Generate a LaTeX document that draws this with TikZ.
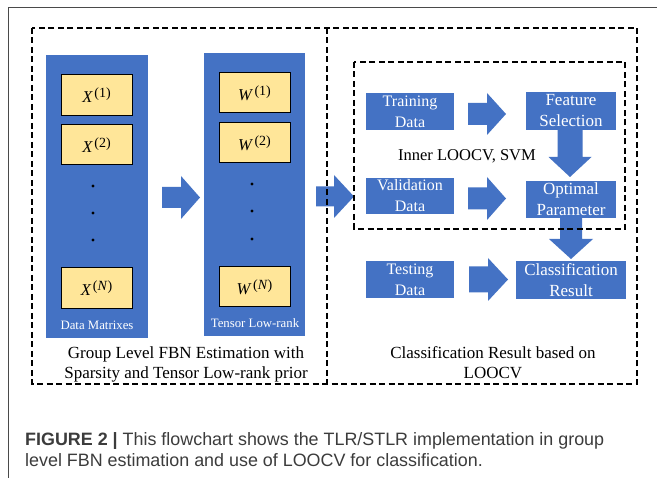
\documentclass[tikz,border=0pt]{standalone}
\usepackage{fontspec}
\setmainfont{Liberation Serif}
\newfontfamily\capfont{Liberation Sans}
\definecolor{blu}{HTML}{4472C4}
\definecolor{yel}{HTML}{FFE699}
\definecolor{framegray}{HTML}{4A4A4A}
\definecolor{captxt}{HTML}{3C3C3C}
\newcommand\blockR[6]{\fill[blu] (#1,#4-#5) -- (#2,#4-#5) -- (#2,#4-#6) -- (#3,#4) -- (#2,#4+#6) -- (#2,#4+#5) -- (#1,#4+#5) -- cycle;}
\newcommand\blockD[6]{\fill[blu] (#4-#5,#1) -- (#4-#5,#2) -- (#4-#6,#2) -- (#4,#3) -- (#4+#6,#2) -- (#4+#5,#2) -- (#4+#5,#1) -- cycle;}
\newcommand\mlab[2]{\textit{#1}\kern1.5pt\raisebox{5pt}{\fontsize{14}{14}\selectfont(#2)}}
\tikzset{
  panel/.style={fill=blu, inner sep=0pt, text=white, font=\fontsize{12.8}{14}\selectfont},
  mat/.style={fill=yel, draw=black, line width=1pt, inner sep=0pt, minimum width=71, font=\fontsize{16.5}{20}\selectfont},
  bboxL/.style={fill=blu, text=white, inner sep=0pt, align=center, font=\fontsize{16}{21}\selectfont},
  bboxR/.style={fill=blu, text=white, inner sep=0pt, align=center, font=\fontsize{17}{21}\selectfont},
  dbox/.style={dash pattern=on 6pt off 3.5pt, line width=1.1pt, black},
  dotc/.style={circle, fill=black, inner sep=0pt, minimum size=3.2pt},
  grouptxt/.style={align=center, font=\fontsize{17}{20}\selectfont},
  captext/.style={anchor=base west, inner sep=0pt, text=captxt, font=\capfont\fontsize{17.9}{20}\selectfont}
}
\begin{document}
\begin{tikzpicture}[x=1pt,y=-1pt]
\useasboundingbox (0,0) rectangle (657,478);
\fill[white] (0,0) rectangle (657,478);
% outer frame (page border)
\draw[framegray, line width=1pt] (8,478) -- (8,8) -- (657,8);

% left panels
\node[panel, minimum width=102, minimum height=283] (panelX) at (97,196.5) {};
\node[panel, minimum width=101, minimum height=283] (panelW) at (254.5,194.5) {};
\node[panel, anchor=center] (lblX) at (97,325) {Data Matrixes};
\node[panel, anchor=center] (lblW) at (255,323) {Tensor Low-rank};

\node[mat, minimum height=41] (X1) at (96.5,95.5) {\mlab{X}{1}};
\node[mat, minimum height=40] (X2) at (96.5,145) {\mlab{X}{2}};
\node[mat, minimum height=41] (XN) at (96.5,288.5) {\mlab{X}{\textit{N}}};
\node[mat, minimum height=40] (W1) at (254.5,93) {\mlab{W}{1}};
\node[mat, minimum height=40] (W2) at (254.5,143) {\mlab{W}{2}};
\node[mat, minimum height=40] (WN) at (254.5,287) {\mlab{W}{\textit{N}}};

\node[dotc] (dx1) at (93,186) {};
\node[dotc] (dx2) at (93,213) {};
\node[dotc] (dx3) at (93,240) {};
\node[dotc] (dw1) at (252,184) {};
\node[dotc] (dw2) at (252,211) {};
\node[dotc] (dw3) at (252,239) {};

% right blue boxes
\node[bboxL, minimum width=88, minimum height=37] (train) at (410,111.5) {Training\\Data};
\node[bboxR, minimum width=90, minimum height=38] (feat) at (571,111) {Feature\\Selection};
\node[bboxL, minimum width=88, minimum height=36] (valid) at (410,196) {Validation\\Data};
\node[bboxR, minimum width=90, minimum height=37] (optim) at (571,199.5) {Optimal\\Parameter};
\node[bboxL, minimum width=88, minimum height=37] (test) at (410,279.5) {Testing\\Data};
\node[bboxR, minimum width=110, minimum height=38] (result) at (571,280) {Classification\\Result};

\node[font=\fontsize{16.5}{20}\selectfont, inner sep=0pt] (inner) at (467,156) {Inner LOOCV, SVM};

% block arrows
\blockR{162}{181}{200}{197.5}{10.5}{21.5}
\blockR{316}{334}{354}{196.5}{10}{21.5}
\blockR{468}{487}{506}{114}{11}{21}
\blockR{468}{487}{506}{198.5}{11}{21.5}
\blockR{469}{488}{508}{279.5}{13}{21.5}
\blockD{130}{157}{177}{570}{12.5}{21.5}
\blockD{218}{239}{259}{571}{11}{22}

% dashed boxes
\draw[dbox] (32,28) rectangle (637,384);
\draw[dbox] (327,28) -- (327,384);
\draw[dbox] (354,62) rectangle (625,229);

\node[grouptxt, inner sep=0pt] (gl) at (186,364) {Group Level FBN Estimation with\\Sparsity and Tensor Low-rank prior};
\node[grouptxt, inner sep=0pt] (gr) at (493,363) {Classification Result based on\\LOOCV};

% figure caption
\node[captext] (cap1) at (25,445.5) {\textbf{FIGURE 2 |} This flowchart shows the TLR/STLR implementation in group};
\node[captext] (cap2) at (25,467) {level FBN estimation and use of LOOCV for classification.};
\end{tikzpicture}
\end{document}
